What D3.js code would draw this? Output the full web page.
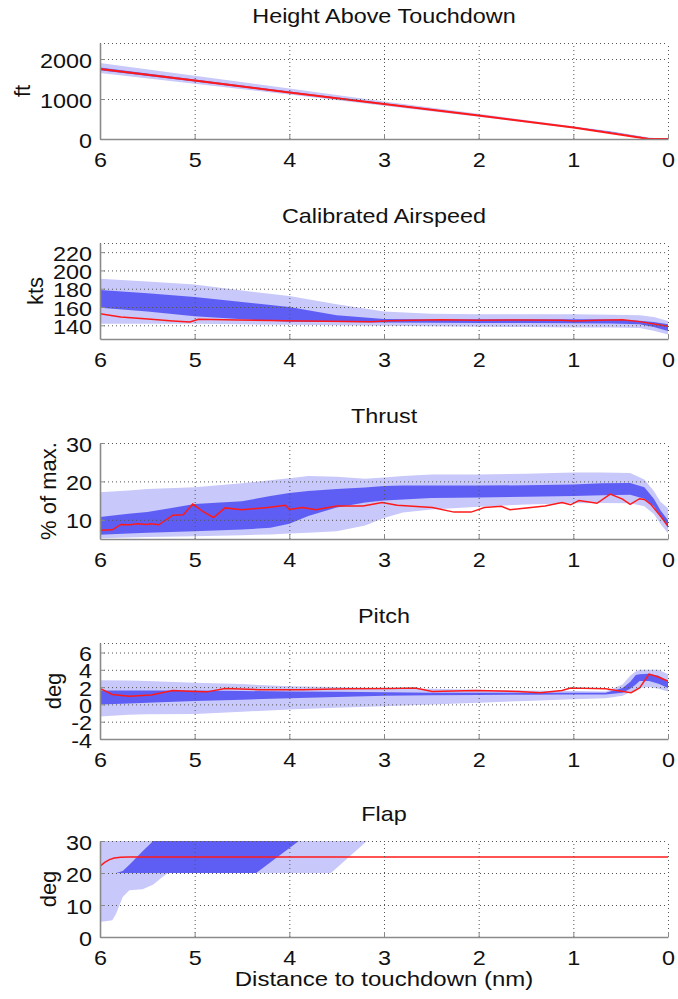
<!DOCTYPE html>
<html>
<head>
<meta charset="utf-8">
<script src="https://cdn.jsdelivr.net/npm/d3@7"></script>
<style>
body { margin: 0; background: #fff; }
text { font-family: "Liberation Sans", Arial, sans-serif; fill: #111; }
</style>
</head>
<body>
<div id="chart"></div>
<script>
var ticksX = [6, 5, 4, 3, 2, 1, 0];

// height above touchdown (ft)
var hatTicks = [0, 1000, 2000];
var hatBandX = [6, 5, 4, 3, 2, 1, 0.6, 0.2, 0];
var hatLightHi = [1900, 1580, 1260, 940, 630, 320, 195, 40, 0];
var hatLightLo = [1650, 1380, 1110, 830, 555, 270, 160, 8, 0];
var hatDarkHi = [1790, 1490, 1190, 895, 600, 298, 180, 20, 0];
var hatDarkLo = [1720, 1435, 1150, 865, 578, 284, 170, 10, 0];
var hatRedX = [6, 5, 4, 3, 2, 1, 0.2, 0];
var hatRed = [1750, 1460, 1165, 875, 585, 290, 0, 0];

// calibrated airspeed (kts)
var casTicks = [140, 160, 180, 200, 220];
var casBandX = [6, 5.5, 5, 4.5, 4, 3.5, 3, 2.5, 2, 1.5, 1, 0.6, 0.3, 0.15, 0];
var casLightHi = [191, 188, 184.7, 178, 172, 163, 155, 152.7, 152, 152, 152, 151.5, 151, 149, 144.7];
var casDarkHi = [178.5, 175, 171, 165.5, 160, 151, 147, 146.5, 146.5, 146.5, 146.5, 146.5, 145, 143.5, 141];
var casDarkLo = [159.3, 155, 150, 146.5, 144, 143.5, 143, 142.8, 142.6, 142.4, 142.3, 142, 141, 138, 133.8];
var casLightLo = [141.8, 141.8, 141.8, 141, 140.5, 140, 139.6, 139, 138.5, 138, 137.5, 137.5, 137, 134, 130];
var casRedX = [6, 5.78, 5.46, 5.23, 5.05, 4.96, 4.55, 3.86, 3.13, 2.95, 2.4, 2.03, 1.58, 1.12, 0.98, 0.75, 0.48, 0.3, 0];
var casRed = [152.7, 149, 146.5, 144.7, 143.6, 146.5, 145.8, 144.7, 144, 145, 146, 145.5, 145.8, 145.5, 144.7, 145.5, 146, 144, 139];

// thrust (% of max.)
var thrTicks = [10, 20, 30];
var thrBandX = [6, 5.7, 5.5, 5, 4.5, 4.2, 4, 3.8, 3.5, 3.2, 3, 2.8, 2.5, 2, 1.5, 1, 0.7, 0.4, 0.25, 0.15, 0.08, 0];
var thrLightHi = [17.2, 17.6, 18, 18.5, 19.5, 20.3, 20.8, 21.4, 21.2, 20.7, 21, 21.4, 21.8, 21.8, 22, 22.3, 22.3, 22.2, 20.5, 17.5, 14.7, 13];
var thrDarkHi = [10.7, 11.6, 12, 14.1, 14.8, 16.2, 17, 17.5, 18, 18.4, 18.8, 18.9, 18.9, 18.9, 19, 19.2, 19.5, 19.6, 18.5, 15.5, 12.5, 9.9];
var thrDarkLo = [6.1, 6.4, 6.6, 7, 7.5, 7.9, 9, 11, 13.2, 14.5, 15, 15.3, 15.7, 15.8, 16, 16.2, 16.4, 16.5, 15.5, 13.5, 11, 7.9];
var thrLightLo = [5.2, 5.4, 5.5, 5.7, 6, 6.2, 6.4, 6.6, 7, 8.5, 10.5, 11.9, 12.7, 13.4, 14, 14.3, 14.4, 14.3, 13.5, 11.5, 9, 6.5];
var thrRedX = [6, 5.87, 5.78, 5.69, 5.6, 5.51, 5.46, 5.38, 5.23, 5.12, 5.02, 4.91, 4.8, 4.68, 4.5, 4.23, 4.04, 4.0, 3.86, 3.72, 3.5, 3.22, 3.02, 2.86, 2.49, 2.26, 2.08, 1.94, 1.76, 1.67, 1.3, 1.12, 1.03, 0.94, 0.75, 0.61, 0.48, 0.4, 0.3, 0.25, 0.18, 0.08, 0];
var thrRed = [7.3, 7.4, 8.8, 8.7, 9.0, 8.8, 9.0, 8.7, 11.2, 11.3, 14.1, 12.1, 10.6, 13.1, 12.6, 13.2, 13.8, 12.7, 13.2, 12.6, 13.6, 13.6, 14.5, 13.8, 13.2, 12.0, 12.0, 13.2, 13.5, 12.6, 13.6, 14.5, 13.9, 15.0, 14.3, 16.7, 15.4, 14.0, 15.5, 15.3, 14.0, 11.0, 8.4];

// pitch (deg)
var pitTicks = [-4, -2, 0, 2, 4, 6];
var pitBandX = [6, 5.7, 5.5, 5, 4.5, 4, 3.5, 3, 2.5, 2, 1.5, 1, 0.66, 0.48, 0.4, 0.34, 0.3, 0.2, 0.1, 0];
var pitLightHi = [2.8, 2.75, 2.7, 2.5, 2.35, 2.1, 2.0, 1.85, 1.8, 1.7, 1.6, 1.55, 1.5, 2.3, 3.3, 3.8, 4.0, 4.0, 4.0, 3.5];
var pitDarkHi = [1.6, 1.6, 1.6, 1.6, 1.55, 1.5, 1.45, 1.4, 1.35, 1.35, 1.35, 1.35, 1.35, 1.9, 2.6, 3.4, 3.5, 3.55, 3.3, 2.7];
var pitDarkLo = [0, 0.1, 0.2, 0.4, 0.55, 0.7, 0.85, 1.0, 1.05, 1.1, 1.12, 1.15, 1.15, 1.35, 1.8, 2.3, 2.7, 2.7, 2.4, 1.9];
var pitLightLo = [-1.4, -1.2, -1.15, -1.1, -0.85, -0.6, -0.4, -0.2, 0, 0.2, 0.4, 0.6, 0.7, 1.0, 1.4, 1.7, 1.9, 2.0, 1.8, 1.5];
var pitRedX = [6, 5.87, 5.69, 5.46, 5.23, 5.0, 4.87, 4.68, 4.32, 3.86, 3.4, 2.95, 2.67, 2.49, 2.03, 1.58, 1.35, 1.12, 1.03, 0.66, 0.39, 0.3, 0.2, 0.11, 0];
var pitRed = [1.85, 1.15, 0.95, 1.1, 1.6, 1.5, 1.45, 1.85, 1.7, 1.7, 1.8, 1.85, 1.9, 1.5, 1.6, 1.5, 1.35, 1.6, 1.9, 1.8, 1.35, 1.9, 3.5, 3.2, 2.7];

// flap (deg)
var flpTicks = [0, 10, 20, 30];
var flpBandX = [6, 5.87, 5.83, 5.76, 5.69, 5.55, 5.46, 5.44, 5.35, 5.28, 4.35, 3.9, 3.56, 3.18, 0];
var flpLightHi = [30, 30, 30, 30, 30, 30, 30, 30, 30, 30, 30, 30, 30, 30, 30];
var flpLightLo = [4.7, 5.2, 7.3, 12.5, 14.6, 14.9, 16.1, 16.3, 18.5, 20, 20, 20, 20, 30, 30];
var flpDarkHi = [20, 20, 20, 20.6, 22.6, 26.8, 29.4, 30, 30, 30, 30, 30, 30, 30, 30];
var flpDarkLo = [20, 20, 20, 20, 20, 20, 20, 20, 20, 20, 20, 30, 30, 30, 30];
var flpRedX = [6, 5.95, 5.9, 5.85, 5.78, 5.7, 0];
var flpRed = [22.1, 23.3, 24.2, 24.7, 24.9, 25, 25];

var panels = [
	{title: "Height Above Touchdown", unit: "ft", ymin: 0, ymax: 2400, ticks: hatTicks,
	 bandX: hatBandX, lightLo: hatLightLo, lightHi: hatLightHi, darkLo: hatDarkLo, darkHi: hatDarkHi, redX: hatRedX, red: hatRed},
	{title: "Calibrated Airspeed", unit: "kts", ymin: 125, ymax: 230, ticks: casTicks,
	 bandX: casBandX, lightLo: casLightLo, lightHi: casLightHi, darkLo: casDarkLo, darkHi: casDarkHi, redX: casRedX, red: casRed},
	{title: "Thrust", unit: "% of max.", ymin: 5, ymax: 30, ticks: thrTicks,
	 bandX: thrBandX, lightLo: thrLightLo, lightHi: thrLightHi, darkLo: thrDarkLo, darkHi: thrDarkHi, redX: thrRedX, red: thrRed},
	{title: "Pitch", unit: "deg", ymin: -4, ymax: 7.1, ticks: pitTicks,
	 bandX: pitBandX, lightLo: pitLightLo, lightHi: pitLightHi, darkLo: pitDarkLo, darkHi: pitDarkHi, redX: pitRedX, red: pitRed},
	{title: "Flap", unit: "deg", ymin: 0, ymax: 30, ticks: flpTicks,
	 bandX: flpBandX, lightLo: flpLightLo, lightHi: flpLightHi, darkLo: flpDarkLo, darkHi: flpDarkHi, redX: flpRedX, red: flpRed}
];

var W = 678, H = 999;
var left = 100, right = 668, plotH = 96;
var tops = [43, 243, 443, 643, 841];
var sx = 1.17; // text in the picture is a bit wider than normal

var svg = d3.select("#chart").append("svg")
	.attr("width", W)
	.attr("height", H);

var x = d3.scaleLinear().domain([6, 0]).range([left, right]);

// plain hyphen for negatives, like the original
var fmt = function (d) { return String(d); };

panels.forEach(function (p, i) {
	var top = tops[i], bottom = top + plotH;
	var y = d3.scaleLinear().domain([p.ymin, p.ymax]).range([bottom, top]);
	var g = svg.append("g");

	g.append("clipPath").attr("id", "clip" + i)
		.append("rect")
		.attr("x", left).attr("y", top)
		.attr("width", right - left).attr("height", plotH);

	var band = p.bandX.map(function (d, k) {
		return {d: d, lLo: p.lightLo[k], lHi: p.lightHi[k], dLo: p.darkLo[k], dHi: p.darkHi[k]};
	});
	var redData = p.redX.map(function (d, k) { return {d: d, v: p.red[k]}; });

	var plot = g.append("g").attr("clip-path", "url(#clip" + i + ")");

	plot.append("path").datum(band)
		.attr("fill", "#c8c8fa")
		.attr("d", d3.area().x(function (d) { return x(d.d); })
			.y0(function (d) { return y(d.lLo); })
			.y1(function (d) { return y(d.lHi); }));

	plot.append("path").datum(band)
		.attr("fill", "#5e5ef5")
		.attr("d", d3.area().x(function (d) { return x(d.d); })
			.y0(function (d) { return y(d.dLo); })
			.y1(function (d) { return y(d.dHi); }));

	// grid on top of the bands, dotted like matlab
	var gx = g.append("g").attr("transform", "translate(0," + bottom + ")")
		.call(d3.axisBottom(x).tickValues(ticksX).tickSize(-plotH).tickFormat(""));
	var gy = g.append("g").attr("transform", "translate(" + left + ",0)")
		.call(d3.axisLeft(y).tickValues(p.ticks.concat([p.ymax])).tickSize(-(right - left)).tickFormat(""));
	[gx, gy].forEach(function (s) {
		s.select(".domain").remove();
		s.selectAll("line")
			.attr("stroke", "#555")
			.attr("stroke-width", 1)
			.attr("stroke-dasharray", "1,3");
	});

	plot.append("path").datum(redData)
		.attr("fill", "none")
		.attr("stroke", "#ff1a1a")
		.attr("stroke-width", i == 0 ? 2 : 1.5)
		.attr("d", d3.line().x(function (d) { return x(d.d); }).y(function (d) { return y(d.v); }));

	// axes
	var ax = g.append("g").attr("transform", "translate(0," + bottom + ")")
		.call(d3.axisBottom(x).tickValues(ticksX).tickSize(-5).tickSizeOuter(0).tickFormat(fmt));
	var ay = g.append("g").attr("transform", "translate(" + left + ",0)")
		.call(d3.axisLeft(y).tickValues(p.ticks).tickSize(-5).tickSizeOuter(0).tickFormat(fmt));

	[ax, ay].forEach(function (s) {
		s.select(".domain").attr("stroke", "#8a8a8a").attr("stroke-width", 1.6);
		s.selectAll(".tick line").attr("stroke", "#8a8a8a");
		s.selectAll("text").attr("font-size", 20).attr("fill", "#111")
			.attr("font-family", "Liberation Sans, Arial, sans-serif");
	});
	ax.selectAll("text").attr("y", 14).attr("dy", "0.71em")
		.attr("transform", "scale(" + sx + ",1)");
	ay.selectAll("text").attr("x", -8 / sx).attr("dy", "0.4em")
		.attr("transform", "scale(" + sx + ",1)");

	// title
	g.append("text")
		.attr("transform", "translate(" + (left + right) / 2 + "," + (top - 20) + ") scale(" + sx + ",1)")
		.attr("text-anchor", "middle")
		.attr("font-size", 20)
		.text(p.title);

	// y label sits left of the widest tick label
	var minLeft = d3.min(ay.selectAll("text").nodes(), function (n) {
		return n.getBoundingClientRect().left;
	});
	g.append("text")
		.attr("transform", "translate(" + (minLeft - 18) + "," + (top + plotH / 2) + ") rotate(-90)")
		.attr("text-anchor", "middle")
		.attr("dy", "0.35em")
		.attr("font-size", 22)
		.text(p.unit);
});

svg.append("text")
	.attr("transform", "translate(" + (left + right) / 2 + ",986) scale(" + sx + ",1)")
	.attr("text-anchor", "middle")
	.attr("font-size", 20.5)
	.text("Distance to touchdown (nm)");
</script>
</body>
</html>
